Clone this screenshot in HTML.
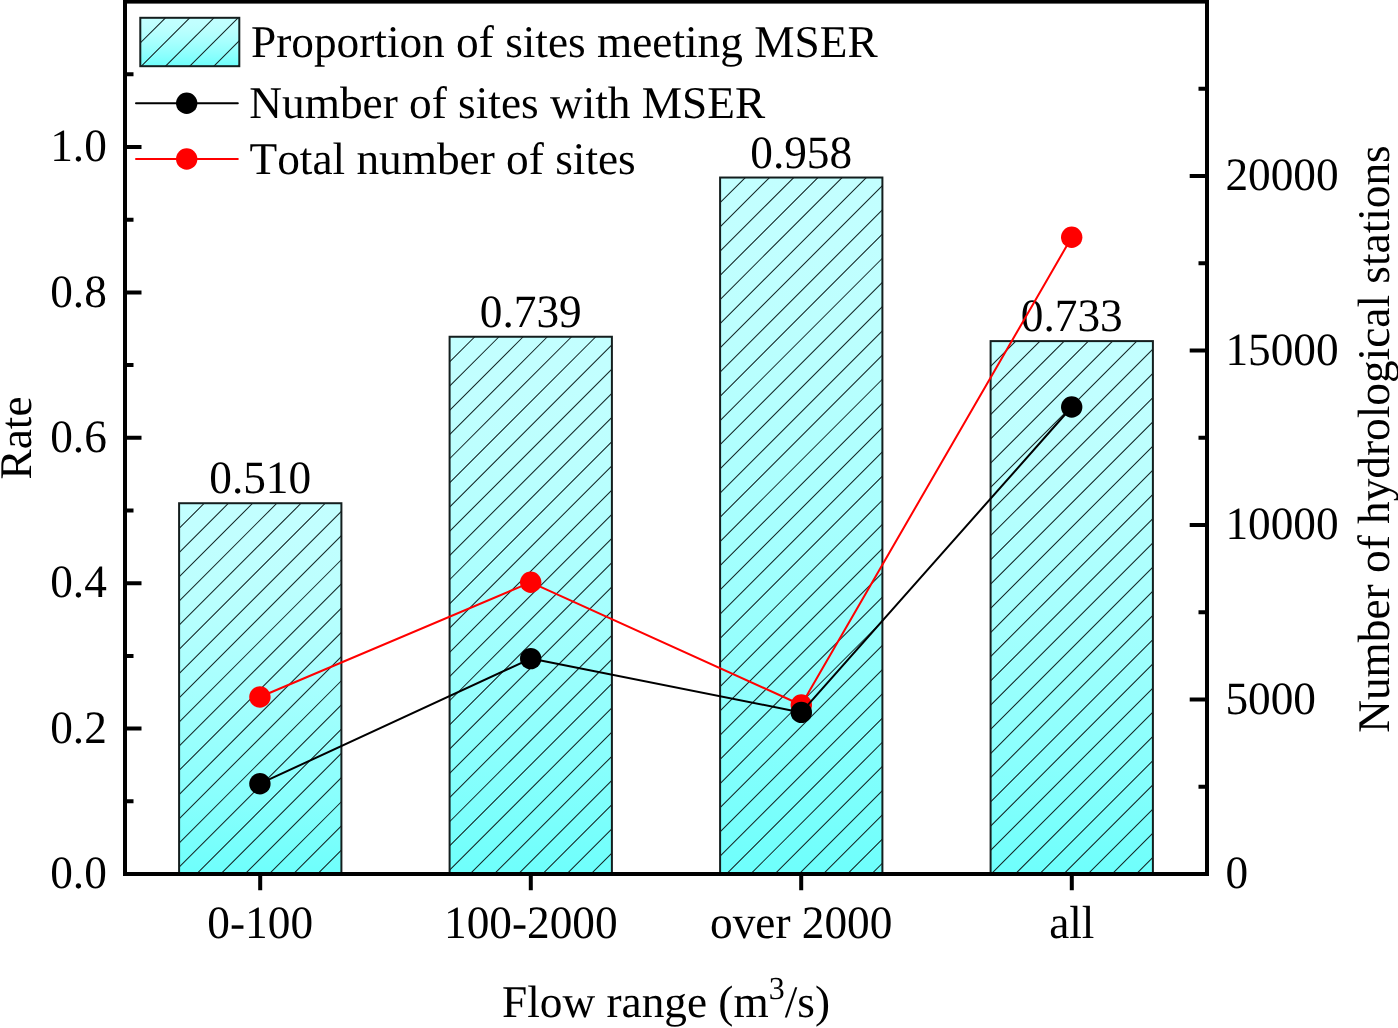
<!DOCTYPE html>
<html lang="en"><head><meta charset="utf-8"><title>Flow range chart</title>
<style>html,body{margin:0;padding:0;background:#fff}body{width:1398px;height:1028px;overflow:hidden}svg{display:block;will-change:transform}text{font-kerning:none;text-rendering:geometricPrecision;font-family:"Liberation Serif","Times New Roman",serif;fill:#000}</style>
</head><body>
<svg width="1398" height="1028" viewBox="0 0 1398 1028">
<defs><linearGradient id="g" x1="0" y1="0" x2="0" y2="1"><stop offset="0.00" stop-color="#c3ffff"/><stop offset="0.10" stop-color="#c1ffff"/><stop offset="0.20" stop-color="#bdfffe"/><stop offset="0.30" stop-color="#b7fffe"/><stop offset="0.40" stop-color="#affffe"/><stop offset="0.50" stop-color="#a7fffe"/><stop offset="0.60" stop-color="#9dfffd"/><stop offset="0.70" stop-color="#93fffd"/><stop offset="0.80" stop-color="#88fffd"/><stop offset="0.90" stop-color="#7bfffc"/><stop offset="1.00" stop-color="#6efffc"/></linearGradient></defs>
<rect width="1398" height="1028" fill="#fff"/>
<clipPath id="c0"><rect x="179.10" y="503.23" width="162.30" height="370.77"/></clipPath>
<rect x="179.10" y="503.23" width="162.30" height="370.77" fill="url(#g)"/>
<path clip-path="url(#c0)" d="M179.10 528.43L204.30 503.23M179.10 552.63L228.50 503.23M179.10 576.83L252.70 503.23M179.10 601.03L276.90 503.23M179.10 625.23L301.10 503.23M179.10 649.43L325.30 503.23M179.10 673.63L349.50 503.23M179.10 697.83L373.70 503.23M179.10 722.03L397.90 503.23M179.10 746.23L422.10 503.23M179.10 770.43L446.30 503.23M179.10 794.63L470.50 503.23M179.10 818.83L494.70 503.23M179.10 843.03L518.90 503.23M179.10 867.23L543.10 503.23M179.10 891.43L567.30 503.23M179.10 915.63L591.50 503.23M179.10 939.83L615.70 503.23M179.10 964.03L639.90 503.23M179.10 988.23L664.10 503.23M179.10 1012.43L688.30 503.23" stroke="#142626" stroke-width="1.05" fill="none"/>
<rect x="179.10" y="503.23" width="162.30" height="370.77" fill="none" stroke="#141e1e" stroke-width="2"/>
<clipPath id="c1"><rect x="449.60" y="336.75" width="162.30" height="537.25"/></clipPath>
<rect x="449.60" y="336.75" width="162.30" height="537.25" fill="url(#g)"/>
<path clip-path="url(#c1)" d="M449.60 361.95L474.80 336.75M449.60 386.15L499.00 336.75M449.60 410.35L523.20 336.75M449.60 434.55L547.40 336.75M449.60 458.75L571.60 336.75M449.60 482.95L595.80 336.75M449.60 507.15L620.00 336.75M449.60 531.35L644.20 336.75M449.60 555.55L668.40 336.75M449.60 579.75L692.60 336.75M449.60 603.95L716.80 336.75M449.60 628.15L741.00 336.75M449.60 652.35L765.20 336.75M449.60 676.55L789.40 336.75M449.60 700.75L813.60 336.75M449.60 724.95L837.80 336.75M449.60 749.15L862.00 336.75M449.60 773.35L886.20 336.75M449.60 797.55L910.40 336.75M449.60 821.75L934.60 336.75M449.60 845.95L958.80 336.75M449.60 870.15L983.00 336.75M449.60 894.35L1007.20 336.75M449.60 918.55L1031.40 336.75M449.60 942.75L1055.60 336.75M449.60 966.95L1079.80 336.75M449.60 991.15L1104.00 336.75M449.60 1015.35L1128.20 336.75" stroke="#142626" stroke-width="1.05" fill="none"/>
<rect x="449.60" y="336.75" width="162.30" height="537.25" fill="none" stroke="#141e1e" stroke-width="2"/>
<clipPath id="c2"><rect x="720.10" y="177.53" width="162.30" height="696.47"/></clipPath>
<rect x="720.10" y="177.53" width="162.30" height="696.47" fill="url(#g)"/>
<path clip-path="url(#c2)" d="M720.10 202.73L745.30 177.53M720.10 226.93L769.50 177.53M720.10 251.13L793.70 177.53M720.10 275.33L817.90 177.53M720.10 299.53L842.10 177.53M720.10 323.73L866.30 177.53M720.10 347.93L890.50 177.53M720.10 372.13L914.70 177.53M720.10 396.33L938.90 177.53M720.10 420.53L963.10 177.53M720.10 444.73L987.30 177.53M720.10 468.93L1011.50 177.53M720.10 493.13L1035.70 177.53M720.10 517.33L1059.90 177.53M720.10 541.53L1084.10 177.53M720.10 565.73L1108.30 177.53M720.10 589.93L1132.50 177.53M720.10 614.13L1156.70 177.53M720.10 638.33L1180.90 177.53M720.10 662.53L1205.10 177.53M720.10 686.73L1229.30 177.53M720.10 710.93L1253.50 177.53M720.10 735.13L1277.70 177.53M720.10 759.33L1301.90 177.53M720.10 783.53L1326.10 177.53M720.10 807.73L1350.30 177.53M720.10 831.93L1374.50 177.53M720.10 856.13L1398.70 177.53M720.10 880.33L1422.90 177.53M720.10 904.53L1447.10 177.53M720.10 928.73L1471.30 177.53M720.10 952.93L1495.50 177.53M720.10 977.13L1519.70 177.53M720.10 1001.33L1543.90 177.53M720.10 1025.53L1568.10 177.53" stroke="#142626" stroke-width="1.05" fill="none"/>
<rect x="720.10" y="177.53" width="162.30" height="696.47" fill="none" stroke="#141e1e" stroke-width="2"/>
<clipPath id="c3"><rect x="990.60" y="341.11" width="162.30" height="532.89"/></clipPath>
<rect x="990.60" y="341.11" width="162.30" height="532.89" fill="url(#g)"/>
<path clip-path="url(#c3)" d="M990.60 366.31L1015.80 341.11M990.60 390.51L1040.00 341.11M990.60 414.71L1064.20 341.11M990.60 438.91L1088.40 341.11M990.60 463.11L1112.60 341.11M990.60 487.31L1136.80 341.11M990.60 511.51L1161.00 341.11M990.60 535.71L1185.20 341.11M990.60 559.91L1209.40 341.11M990.60 584.11L1233.60 341.11M990.60 608.31L1257.80 341.11M990.60 632.51L1282.00 341.11M990.60 656.71L1306.20 341.11M990.60 680.91L1330.40 341.11M990.60 705.11L1354.60 341.11M990.60 729.31L1378.80 341.11M990.60 753.51L1403.00 341.11M990.60 777.71L1427.20 341.11M990.60 801.91L1451.40 341.11M990.60 826.11L1475.60 341.11M990.60 850.31L1499.80 341.11M990.60 874.51L1524.00 341.11M990.60 898.71L1548.20 341.11M990.60 922.91L1572.40 341.11M990.60 947.11L1596.60 341.11M990.60 971.31L1620.80 341.11M990.60 995.51L1645.00 341.11M990.60 1019.71L1669.20 341.11" stroke="#142626" stroke-width="1.05" fill="none"/>
<rect x="990.60" y="341.11" width="162.30" height="532.89" fill="none" stroke="#141e1e" stroke-width="2"/>
<text transform="translate(260.2,493.2) scale(0.9763,1)" font-size="46.4" text-anchor="middle">0.510</text>
<text transform="translate(530.8,326.7) scale(0.9763,1)" font-size="46.4" text-anchor="middle">0.739</text>
<text transform="translate(801.2,167.5) scale(0.9763,1)" font-size="46.4" text-anchor="middle">0.958</text>
<text transform="translate(1071.8,331.1) scale(0.9763,1)" font-size="46.4" text-anchor="middle">0.733</text>
<polyline points="259.9,697.0 530.7,582.3 801.3,705.0 1071.7,237.3" fill="none" stroke="#ff0000" stroke-width="2" stroke-linecap="round" stroke-linejoin="round"/>
<circle cx="259.9" cy="697.0" r="10.7" fill="#ff0000"/>
<circle cx="530.7" cy="582.3" r="10.7" fill="#ff0000"/>
<circle cx="801.3" cy="705.0" r="10.7" fill="#ff0000"/>
<circle cx="1071.7" cy="237.3" r="10.7" fill="#ff0000"/>
<polyline points="259.9,783.7 530.7,658.6 801.3,712.4 1071.7,407.0" fill="none" stroke="#000000" stroke-width="2" stroke-linecap="round" stroke-linejoin="round"/>
<circle cx="259.9" cy="783.7" r="10.7" fill="#000000"/>
<circle cx="530.7" cy="658.6" r="10.7" fill="#000000"/>
<circle cx="801.3" cy="712.4" r="10.7" fill="#000000"/>
<circle cx="1071.7" cy="407.0" r="10.7" fill="#000000"/>
<rect x="125.0" y="1.6" width="1082.0" height="872.4" fill="none" stroke="#000" stroke-width="4"/>
<path d="M125.0 874.0h16.5M125.0 728.6h16.5M125.0 583.2h16.5M125.0 437.8h16.5M125.0 292.4h16.5M125.0 147.0h16.5M125.0 801.3h8.5M125.0 655.9h8.5M125.0 510.5h8.5M125.0 365.1h8.5M125.0 219.7h8.5M125.0 74.3h8.5M1207.0 874.0h-17.3M1207.0 699.5h-17.3M1207.0 525.0h-17.3M1207.0 350.6h-17.3M1207.0 176.1h-17.3M1207.0 786.8h-8.5M1207.0 612.3h-8.5M1207.0 437.8h-8.5M1207.0 263.3h-8.5M1207.0 88.8h-8.5M260.2 874.0v16.3M530.8 874.0v16.3M801.2 874.0v16.3M1071.8 874.0v16.3" stroke="#000" stroke-width="4" fill="none"/>
<text transform="translate(106.8,888.2) scale(0.9763,1)" font-size="46.4" text-anchor="end">0.0</text>
<text transform="translate(106.8,742.8) scale(0.9763,1)" font-size="46.4" text-anchor="end">0.2</text>
<text transform="translate(106.8,597.4) scale(0.9763,1)" font-size="46.4" text-anchor="end">0.4</text>
<text transform="translate(106.8,452.0) scale(0.9763,1)" font-size="46.4" text-anchor="end">0.6</text>
<text transform="translate(106.8,306.6) scale(0.9763,1)" font-size="46.4" text-anchor="end">0.8</text>
<text transform="translate(106.8,161.2) scale(0.9763,1)" font-size="46.4" text-anchor="end">1.0</text>
<text transform="translate(1225.4,888.1) scale(0.9763,1)" font-size="46.4" text-anchor="start">0</text>
<text transform="translate(1225.4,713.6) scale(0.9763,1)" font-size="46.4" text-anchor="start">5000</text>
<text transform="translate(1225.4,539.1) scale(0.9763,1)" font-size="46.4" text-anchor="start">10000</text>
<text transform="translate(1225.4,364.7) scale(0.9763,1)" font-size="46.4" text-anchor="start">15000</text>
<text transform="translate(1225.4,190.2) scale(0.9763,1)" font-size="46.4" text-anchor="start">20000</text>
<text transform="translate(260.2,938.3) scale(0.9763,1)" font-size="46.4" text-anchor="middle">0-100</text>
<text transform="translate(530.8,938.3) scale(0.9763,1)" font-size="46.4" text-anchor="middle">100-2000</text>
<text transform="translate(801.2,938.3) scale(0.9763,1)" font-size="46.4" text-anchor="middle">over 2000</text>
<text transform="translate(1071.8,938.3) scale(0.9763,1)" font-size="46.4" text-anchor="middle">all</text>
<text x="666" y="1017.4" font-size="45.3" text-anchor="middle">Flow range (m<tspan font-size="32" dy="-18.5">3</tspan><tspan dy="18.5">/s)</tspan></text>
<text transform="translate(31,438) rotate(-90)" font-size="45.3" text-anchor="middle">Rate</text>
<text transform="translate(1389,439) rotate(-90)" font-size="45.3" text-anchor="middle">Number of hydrological stations</text>
<clipPath id="cl"><rect x="140.30" y="17.80" width="99.00" height="48.40"/></clipPath>
<rect x="140.30" y="17.80" width="99.00" height="48.40" fill="url(#g)"/>
<path clip-path="url(#cl)" d="M140.30 43.00L165.50 17.80M140.30 67.20L189.70 17.80M140.30 91.40L213.90 17.80M140.30 115.60L238.10 17.80M140.30 139.80L262.30 17.80M140.30 164.00L286.50 17.80" stroke="#142626" stroke-width="1.05" fill="none"/>
<rect x="140.30" y="17.80" width="99.00" height="48.40" fill="none" stroke="#141e1e" stroke-width="2"/>
<path d="M136 103.3H237.8" stroke="#000" stroke-width="2" stroke-linecap="round" stroke-linejoin="round"/><circle cx="186.7" cy="103.3" r="10.7" fill="#000"/>
<path d="M136 159H237.8" stroke="#f00" stroke-width="2" stroke-linecap="round" stroke-linejoin="round"/><circle cx="186.7" cy="159" r="10.7" fill="#f00"/>
<text x="251" y="57.1" font-size="45.3">Proportion of sites meeting MSER</text>
<text x="249.3" y="118.2" font-size="45.3">Number of sites with MSER</text>
<text x="249.5" y="174" font-size="45.3">Total number of sites</text>
</svg></body></html>
